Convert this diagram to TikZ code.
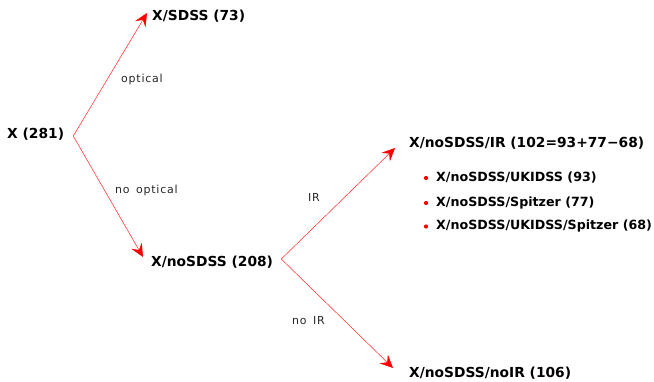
\documentclass[tikz,border=0pt]{standalone}
\usepackage{fontspec}
\setmainfont{DejaVu Sans}
\newfontfamily\lblfont[LetterSpace=7]{DejaVu Sans}
\usetikzlibrary{arrows.meta}
\begin{document}
\begin{tikzpicture}[x=1pt,y=-1pt,
  box/.style={font=\fontsize{13.8}{15}\selectfont\bfseries, inner sep=2pt, anchor=west},
  item/.style={font=\fontsize{12.65}{14}\selectfont\bfseries, inner sep=2pt, anchor=west},
  lbl/.style={font=\lblfont\fontsize{11}{12}\selectfont, text=black!85, inner sep=0pt, anchor=west},
  conn/.style={draw=red!85, line width=0.5pt, -{Stealth[length=13pt,width=12pt,inset=5pt,fill=red,color=red]}},
  dot/.style={circle, fill=red, inner sep=0pt, minimum size=4.2pt}]
\useasboundingbox (0,0) rectangle (654,381);
\node[box] (x) at (5,134) {X (281)};
\node[box] (sdss) at (150,16) {X/SDSS (73)};
\node[box] (nosdss) at (149,262) {X/noSDSS (208)};
\node[box] (ir) at (407,143) {X/noSDSS/IR (102=93+77−68)};
\node[box] (noir) at (407,373) {X/noSDSS/noIR (106)};
\node[item] (b1) at (434,178) {X/noSDSS/UKIDSS (93)};
\node[item] (b2) at (434,203) {X/noSDSS/Spitzer (77)};
\node[item] (b3) at (434,226.5) {X/noSDSS/UKIDSS/Spitzer (68)};
\node[dot] (d1) at (426,178) {};
\node[dot] (d2) at (426,203) {};
\node[dot] (d3) at (426,226.5) {};
\coordinate (o1) at ([shift={(7,2)}]x.east);
\coordinate (t1) at ([shift={(-3,-3)}]sdss.west);
\coordinate (t2) at ([shift={(-6,-5)}]nosdss.west);
\coordinate (o2) at ([shift={(6,-3)}]nosdss.east);
\coordinate (t3) at ([shift={(-12,5)}]ir.west);
\coordinate (t4) at ([shift={(-14,-5)}]noir.west);
\draw[conn] (o1) -- (t1);
\draw[conn] (o1) -- (t2);
\draw[conn] (o2) -- (t3);
\draw[conn] (o2) -- (t4);
\node[lbl] (l1) at (121,79) {optical};
\node[lbl] (l2) at (115,190) {no\hspace{0.2em} optical};
\node[lbl] (l3) at (308,197) {IR};
\node[lbl] (l4) at (292,321) {no\hspace{0.2em} IR};
\end{tikzpicture}
\end{document}
